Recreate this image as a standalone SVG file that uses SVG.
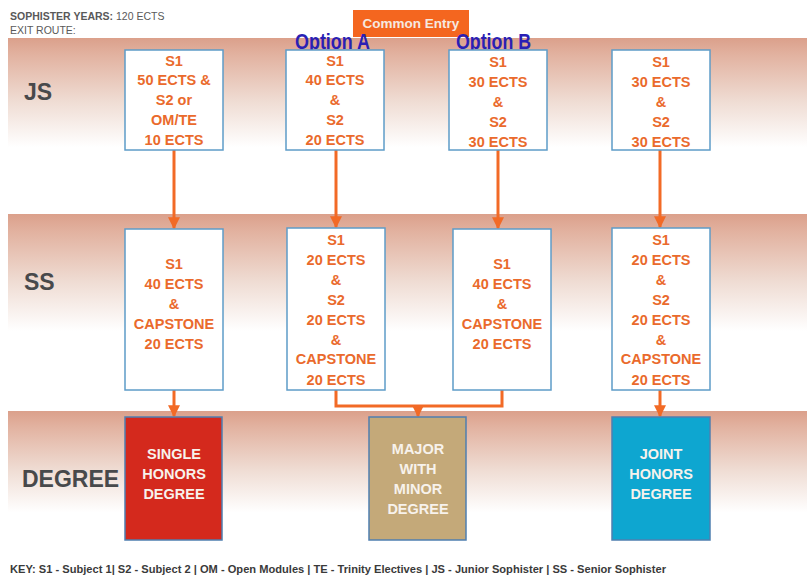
<svg xmlns="http://www.w3.org/2000/svg" width="807" height="580" viewBox="0 0 807 580">
<defs>
<linearGradient id="band" x1="0" y1="0" x2="0" y2="1">
<stop offset="0" stop-color="#dba08b"/>
<stop offset="0.12" stop-color="#e2b2a0"/>
<stop offset="0.45" stop-color="#efdcd3"/>
<stop offset="0.78" stop-color="#ffffff"/>
<stop offset="1" stop-color="#ffffff"/>
</linearGradient>
<marker id="ah" viewBox="0 0 10 10" refX="9" refY="5" markerWidth="4" markerHeight="4" orient="auto" markerUnits="strokeWidth">
<path d="M0,0 L10,5 L0,10 z" fill="#f26a26"/>
</marker>
<style>
.lbl{font-family:"Liberation Sans",Arial,sans-serif;font-weight:bold;fill:#48494b;font-size:23px}
.box{fill:#ffffff;stroke:#5e9cc8;stroke-width:1.5}
.bt{font-family:"Liberation Sans",Arial,sans-serif;font-weight:bold;fill:#ea6a2c;font-size:14.5px;text-anchor:middle}
.dt{font-family:"Liberation Sans",Arial,sans-serif;font-weight:bold;fill:#f7f2ec;font-size:14.5px;text-anchor:middle}
.con{fill:none;stroke:#f26a26;stroke-width:3}
.opt{font-family:"Liberation Sans",Arial,sans-serif;font-weight:bold;fill:#2a1fb4;font-size:22px}
.hd{font-family:"Liberation Sans",Arial,sans-serif;fill:#595959;font-size:10.5px}
</style>
</defs>
<rect width="807" height="580" fill="#ffffff"/>
<!-- bands -->
<rect x="8" y="38" width="799" height="140" fill="url(#band)"/>
<rect x="8" y="214" width="799" height="150" fill="url(#band)"/>
<rect x="8" y="411" width="799" height="130" fill="url(#band)"/>
<!-- header -->
<text class="hd" x="10" y="20"><tspan font-weight="bold">SOPHISTER YEARS:</tspan> 120 ECTS</text>
<text class="hd" x="10" y="34">EXIT ROUTE:</text>
<g id="common-entry">
<rect x="353" y="10" width="116" height="27" fill="#f4661f"/>
<text x="411" y="28" text-anchor="middle" font-family="Liberation Sans,Arial,sans-serif" font-weight="bold" font-size="13.5" fill="#f6e9e0">Common Entry</text>
</g>
<text class="lbl" x="24" y="100">JS</text>
<text class="lbl" x="24" y="290">SS</text>
<text class="lbl" x="22" y="487">DEGREE</text>
<!-- connectors -->
<g id="connectors">
<line class="con" x1="174" y1="150" x2="174" y2="228" marker-end="url(#ah)"/>
<line class="con" x1="336" y1="150" x2="336" y2="227" marker-end="url(#ah)"/>
<line class="con" x1="498" y1="150" x2="498" y2="228" marker-end="url(#ah)"/>
<line class="con" x1="660" y1="150" x2="660" y2="227" marker-end="url(#ah)"/>
<line class="con" x1="174" y1="390" x2="174" y2="416" marker-end="url(#ah)"/>
<polyline class="con" points="336,390 336,406 502,406 502,390"/>
<line class="con" x1="418" y1="406" x2="418" y2="416" marker-end="url(#ah)"/>
<line class="con" x1="660" y1="390" x2="660" y2="416" marker-end="url(#ah)"/>
</g>
<text class="opt" x="295" y="49" textLength="75" lengthAdjust="spacingAndGlyphs">Option A</text>
<text class="opt" x="456" y="49" textLength="75" lengthAdjust="spacingAndGlyphs">Option B</text>
<!-- JS nodes -->
<g id="js1"><rect class="box" x="125" y="50" width="98" height="100"/>
<text class="bt" x="174" y="66">S1</text><text class="bt" x="174" y="85">50 ECTS &amp;</text><text class="bt" x="174" y="105">S2 or</text><text class="bt" x="174" y="125">OM/TE</text><text class="bt" x="174" y="145">10 ECTS</text></g>
<g id="js2"><rect class="box" x="286" y="50" width="98" height="100"/>
<text class="bt" x="335" y="66">S1</text><text class="bt" x="335" y="85">40 ECTS</text><text class="bt" x="335" y="105">&amp;</text><text class="bt" x="335" y="125">S2</text><text class="bt" x="335" y="145">20 ECTS</text></g>
<g id="js3"><rect class="box" x="449" y="50" width="98" height="100"/>
<text class="bt" x="498" y="67">S1</text><text class="bt" x="498" y="87">30 ECTS</text><text class="bt" x="498" y="107">&amp;</text><text class="bt" x="498" y="127">S2</text><text class="bt" x="498" y="147">30 ECTS</text></g>
<g id="js4"><rect class="box" x="612" y="50" width="98" height="100"/>
<text class="bt" x="661" y="67">S1</text><text class="bt" x="661" y="87">30 ECTS</text><text class="bt" x="661" y="107">&amp;</text><text class="bt" x="661" y="127">S2</text><text class="bt" x="661" y="147">30 ECTS</text></g>
<!-- SS nodes -->
<g id="ss1"><rect class="box" x="125" y="229" width="98" height="161"/>
<text class="bt" x="174" y="269">S1</text><text class="bt" x="174" y="289">40 ECTS</text><text class="bt" x="174" y="309">&amp;</text><text class="bt" x="174" y="329">CAPSTONE</text><text class="bt" x="174" y="349">20 ECTS</text></g>
<g id="ss2"><rect class="box" x="287" y="228" width="98" height="162"/>
<text class="bt" x="336" y="245">S1</text><text class="bt" x="336" y="265">20 ECTS</text><text class="bt" x="336" y="285">&amp;</text><text class="bt" x="336" y="305">S2</text><text class="bt" x="336" y="325">20 ECTS</text><text class="bt" x="336" y="345">&amp;</text><text class="bt" x="336" y="364">CAPSTONE</text><text class="bt" x="336" y="385">20 ECTS</text></g>
<g id="ss3"><rect class="box" x="453" y="229" width="98" height="161"/>
<text class="bt" x="502" y="269">S1</text><text class="bt" x="502" y="289">40 ECTS</text><text class="bt" x="502" y="309">&amp;</text><text class="bt" x="502" y="329">CAPSTONE</text><text class="bt" x="502" y="349">20 ECTS</text></g>
<g id="ss4"><rect class="box" x="612" y="228" width="98" height="162"/>
<text class="bt" x="661" y="245">S1</text><text class="bt" x="661" y="265">20 ECTS</text><text class="bt" x="661" y="285">&amp;</text><text class="bt" x="661" y="305">S2</text><text class="bt" x="661" y="325">20 ECTS</text><text class="bt" x="661" y="345">&amp;</text><text class="bt" x="661" y="364">CAPSTONE</text><text class="bt" x="661" y="385">20 ECTS</text></g>
<!-- Degree nodes -->
<g id="single"><rect x="125" y="417" width="97" height="123" fill="#d4291d" stroke="#4f7fb0" stroke-width="1.5"/>
<text class="dt" x="174" y="459">SINGLE</text><text class="dt" x="174" y="479">HONORS</text><text class="dt" x="174" y="499">DEGREE</text></g>
<g id="major"><rect x="369" y="417" width="97" height="123" fill="#c4a979" stroke="#4f7fb0" stroke-width="1.5"/>
<text class="dt" x="418" y="454">MAJOR</text><text class="dt" x="418" y="474">WITH</text><text class="dt" x="418" y="494">MINOR</text><text class="dt" x="418" y="514">DEGREE</text></g>
<g id="joint"><rect x="612" y="417" width="98" height="123" fill="#0ea6d0" stroke="#4f7fb0" stroke-width="1.5"/>
<text class="dt" x="661" y="459">JOINT</text><text class="dt" x="661" y="479">HONORS</text><text class="dt" x="661" y="499">DEGREE</text></g>
<text x="10" y="573" font-family="Liberation Sans,Arial,sans-serif" font-weight="bold" font-size="11" fill="#3a3a3a" textLength="656" lengthAdjust="spacingAndGlyphs">KEY: S1 - Subject 1| S2 - Subject 2 | OM - Open Modules | TE - Trinity Electives | JS - Junior Sophister | SS - Senior Sophister</text>
</svg>
